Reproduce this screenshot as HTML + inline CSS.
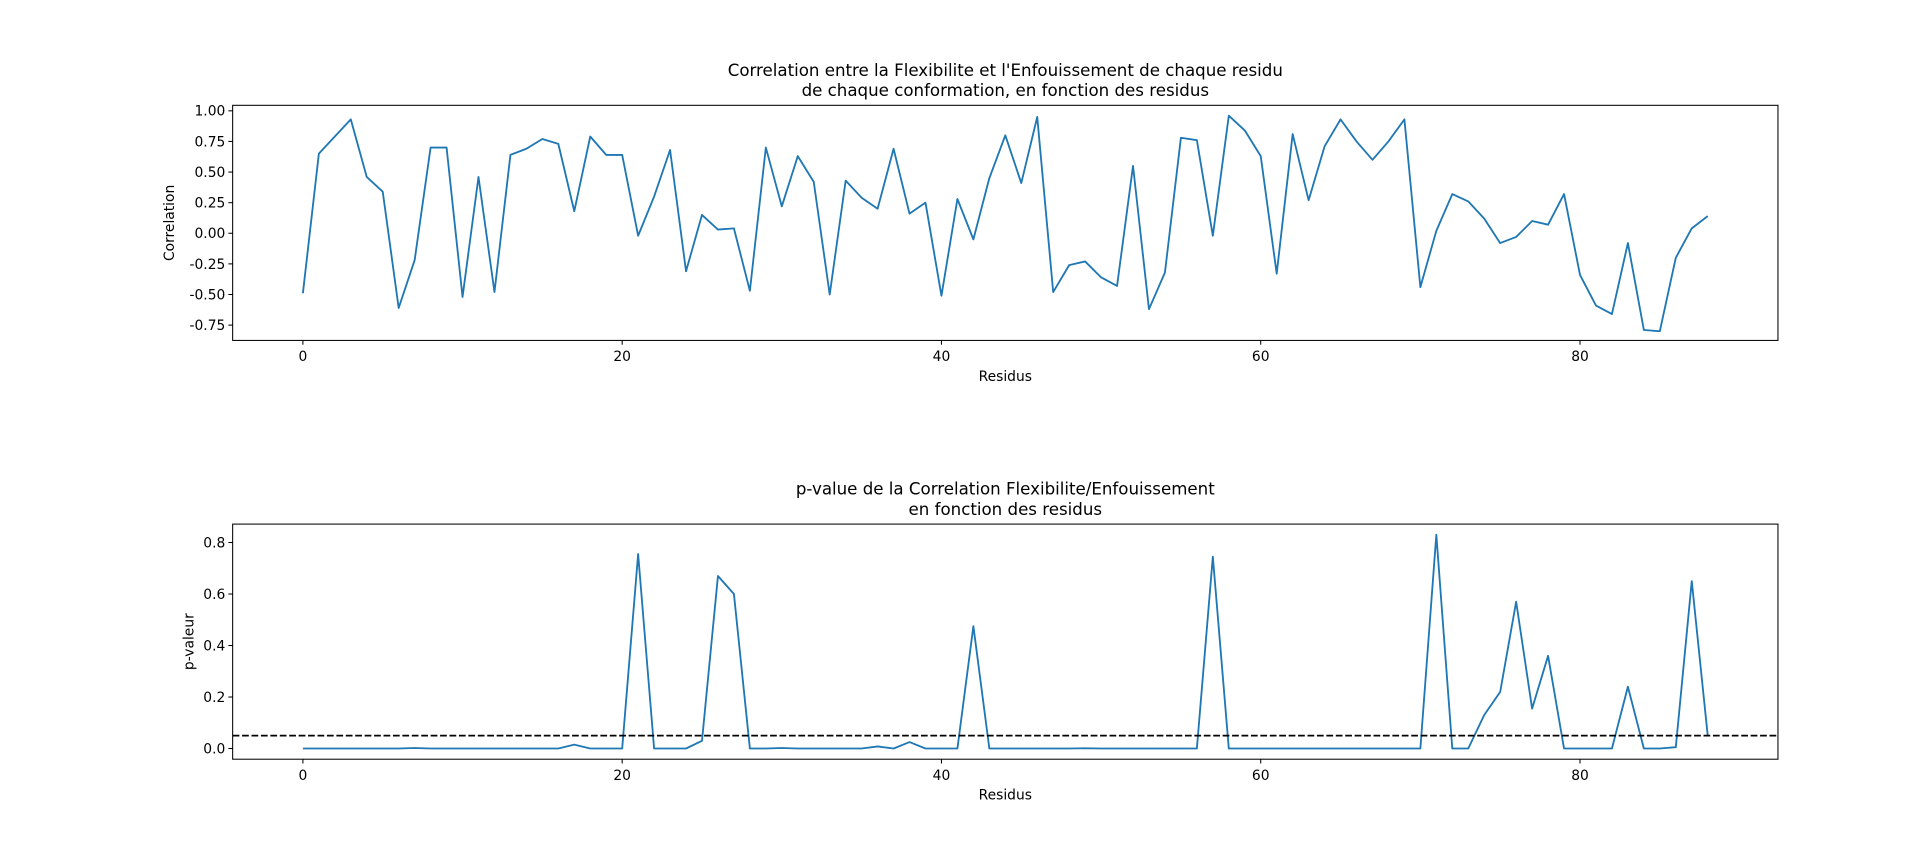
<!DOCTYPE html>
<html><head><meta charset="utf-8"><style>
html,body{margin:0;padding:0;background:#fff;overflow:hidden;}
svg{display:block;font-family:"DejaVu Sans","Liberation Sans",sans-serif;}
</style></head><body>
<svg id="fig" width="1920" height="865" viewBox="0 0 1568 706.4" preserveAspectRatio="none"></svg>
<script>
const residues = Array.from({length:89},(_,i)=>i);
const correlation = [-0.49,0.65,0.79,0.93,0.46,0.34,-0.61,-0.22,0.70,0.70,-0.52,0.46,-0.48,0.64,0.69,0.77,0.73,0.18,0.79,0.64,0.64,-0.02,0.30,0.68,-0.31,0.15,0.03,0.04,-0.47,0.70,0.22,0.63,0.42,-0.50,0.43,0.29,0.20,0.69,0.16,0.25,-0.51,0.28,-0.05,0.45,0.80,0.41,0.95,-0.48,-0.26,-0.23,-0.36,-0.43,0.55,-0.62,-0.32,0.78,0.76,-0.02,0.96,0.84,0.63,-0.33,0.81,0.27,0.71,0.93,0.75,0.60,0.75,0.93,-0.44,0.02,0.32,0.26,0.12,-0.08,-0.03,0.10,0.07,0.32,-0.34,-0.59,-0.66,-0.08,-0.79,-0.80,-0.20,0.04,0.14];
const pvalues = [0,0,0,0,0,0,0,0.002,0,0,0,0,0,0,0,0,0,0.015,0,0,0,0.755,0,0,0,0.03,0.67,0.60,0,0,0.002,0,0,0,0,0,0.008,0,0.025,0,0,0,0.475,0,0,0,0,0,0,0.001,0,0,0,0,0,0,0,0.745,0,0,0,0,0,0,0,0,0,0,0,0,0,0.83,0,0,0.13,0.22,0.57,0.155,0.36,0,0,0,0,0.24,0,0,0.005,0.65,0.05];
const threshold = [0.05];
const xTicks = [0,20,40,60,80];
const topTicks = [-0.75,-0.50,-0.25,0.00,0.25,0.50,0.75,1.00];
const botTicks = [0.0,0.2,0.4,0.6,0.8];

const svg = document.getElementById('fig');
const NS = 'http://www.w3.org/2000/svg';
function mk(tag, attrs, parent){const e=document.createElementNS(NS,tag);for(const k in attrs)e.setAttribute(k,attrs[k]);(parent||svg).appendChild(e);return e;}

function panel(cfg){
  const {top,bottom,ymin,ymax,ticks,dec,title,ylabel,name,series,hline} = cfg;
  const L=190,R=1452;
  const xmin=-4.4,xmax=92.4;
  const X=v=>L+(v-xmin)/(xmax-xmin)*(R-L);
  const Y=v=>bottom-(v-ymin)/(ymax-ymin)*(bottom-top);
  const g=mk('g',{});
  
  
  const pts=series.map((v,i)=>X(residues[i]).toFixed(2)+','+Y(v).toFixed(2)).join(' ');
  const pl=mk('polyline',{points:pts,fill:'none',stroke:'#1f77b4','stroke-width':1.5,'stroke-linejoin':'round'},g);
  
  
  if(hline){
    const hl=mk('line',{x1:L,x2:R,y1:Y(hline[0]),y2:Y(hline[0]),stroke:'#000','stroke-width':1.4,'stroke-dasharray':'5.5,2.2'},g);
    
    
  }
  const fr=mk('rect',{x:L,y:top,width:R-L,height:bottom-top,fill:'none',stroke:'#000','stroke-width':0.85},g);
  
  
  xTicks.forEach(t=>{
    const x=X(t);
    mk('line',{x1:x,x2:x,y1:bottom,y2:bottom+3.5,stroke:'#000','stroke-width':0.85},g);
    const tx=mk('text',{x:x,y:bottom+17,'font-size':11.3,'text-anchor':'middle',fill:'#000'},g);
    tx.textContent=t;
    
    
  });
  ticks.forEach(t=>{
    const y=Y(t);
    mk('line',{x1:L-3.5,x2:L,y1:y,y2:y,stroke:'#000','stroke-width':0.85},g);
    const ty=mk('text',{x:L-6,y:y+4,'font-size':11.3,'text-anchor':'end',fill:'#000'},g);
    ty.textContent=t.toFixed(dec);
    
    
  });
  const xl=mk('text',{x:(L+R)/2,y:bottom+33,'font-size':11.3,'text-anchor':'middle',fill:'#000'},g);
  xl.textContent='Residus';
  
  
  const yx=cfg.ylx, yy=(top+bottom)/2;
  const yl=mk('text',{x:yx,y:yy,'font-size':11.3,'text-anchor':'middle',fill:'#000',transform:`rotate(-90 ${yx} ${yy})`},g);
  yl.textContent=ylabel;
  
  
  title.forEach((s,i)=>{
    const t=mk('text',{x:(L+R)/2,y:top-24+i*16.5,'font-size':13.6,'text-anchor':'middle',fill:'#000'},g);
    t.textContent=s;
    
    
  });
}
panel({top:86,bottom:278,ymin:-0.875,ymax:1.045,ticks:topTicks,dec:2,name:'correlation',series:correlation,ylabel:'Correlation',ylx:142,
  title:["Correlation entre la Flexibilite et l'Enfouissement de chaque residu","de chaque conformation, en fonction des residus"]});
panel({top:428,bottom:620,ymin:-0.0415,ymax:0.8715,ticks:botTicks,dec:1,name:'pvalue',series:pvalues,ylabel:'p-valeur',ylx:158,hline:threshold,
  title:["p-value de la Correlation Flexibilite/Enfouissement","en fonction des residus"]});
</script>
</body></html>
